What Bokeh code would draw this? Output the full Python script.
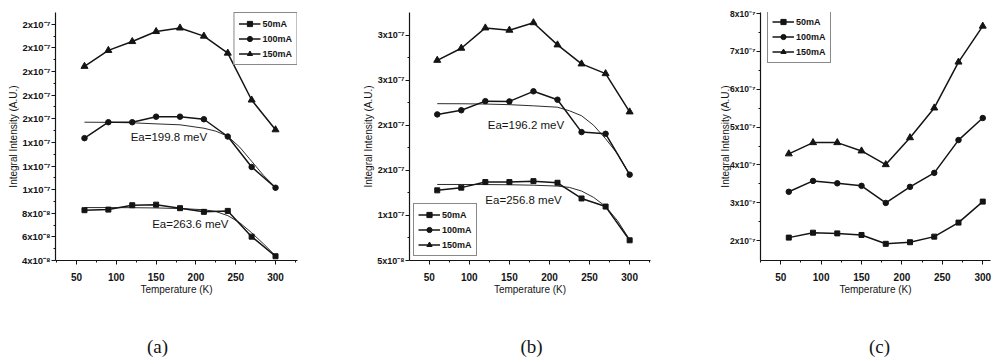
from bokeh.plotting import figure
from bokeh.layouts import row, column
from bokeh.models import (Range1d, FixedTicker, CustomJSTickFormatter, Label,
                          Legend, LegendItem)
from bokeh.embed import file_html
from bokeh.resources import INLINE
from bokeh.core.properties import value

# ---------------- data (intensities in units of 1e-7 A.U.) ----------------
temps = [60, 90, 120, 150, 180, 210, 240, 270, 300]
fit_temps = [60, 90, 120, 150, 180, 210, 225, 240, 255, 270, 285, 300]
series_names = ["50mA", "100mA", "150mA"]
markers = ["square", "circle", "triangle"]

# panel (a)
a_50 = [0.826, 0.831, 0.868, 0.873, 0.843, 0.812, 0.820, 0.602, 0.436]
a_100 = [1.436, 1.571, 1.571, 1.618, 1.618, 1.596, 1.450, 1.192, 1.016]
a_150 = [2.044, 2.179, 2.254, 2.339, 2.369, 2.300, 2.156, 1.759, 1.507]
a_fit_50 = [0.848, 0.848, 0.847, 0.845, 0.840, 0.830, 0.815, 0.780, 0.720, 0.635, 0.540, 0.440]
a_fit_100 = [1.571, 1.570, 1.566, 1.557, 1.549, 1.520, 1.495, 1.452, 1.360, 1.240, 1.120, 1.020]
a_ea = ["Ea=199.8 meV", "Ea=263.6 meV"]
a_ea_x = [118, 145]
a_ea_y = [1.442, 0.711]
a_yticks = [0.4, 0.6, 0.8, 1.0, 1.2, 1.4, 1.6, 1.8, 2.0, 2.2, 2.4]

# panel (b)
b_50 = [1.278, 1.308, 1.370, 1.370, 1.380, 1.362, 1.188, 1.098, 0.724]
b_100 = [2.120, 2.166, 2.267, 2.264, 2.376, 2.283, 1.924, 1.905, 1.452]
b_150 = [2.720, 2.854, 3.079, 3.054, 3.137, 2.891, 2.680, 2.572, 2.148]
b_fit_50 = [1.343, 1.343, 1.342, 1.340, 1.335, 1.325, 1.310, 1.270, 1.200, 1.100, 0.940, 0.730]
b_fit_100 = [2.239, 2.238, 2.235, 2.228, 2.215, 2.200, 2.160, 2.105, 2.000, 1.850, 1.680, 1.452]
b_ea = ["Ea=196.2 meV", "Ea=256.8 meV"]
b_ea_x = [123, 120]
b_ea_y = [2.003, 1.170]
b_yticks = [0.5, 1.0, 1.5, 2.0, 2.5, 3.0]

# panel (c)
c_50 = [2.078, 2.208, 2.190, 2.148, 1.914, 1.956, 2.104, 2.475, 3.030]
c_100 = [3.290, 3.577, 3.514, 3.447, 2.995, 3.420, 3.790, 4.657, 5.240]
c_150 = [4.293, 4.590, 4.590, 4.370, 4.008, 4.720, 5.506, 6.720, 7.670]
c_yticks = [2, 3, 4, 5, 6, 7, 8]

x_ticks = [50, 100, 150, 200, 250, 300]
x_minor = [25, 75, 125, 175, 225, 275, 325]
panel_labels = ["(a)", "(b)", "(c)"]
panel_label_x = [157, 531, 879]

FONT = "Liberation Sans"
INK = "#141414"

y_fmt = CustomJSTickFormatter(code="""
    const small = tick < 0.95;
    const m = small ? Math.round(tick * 10) : Math.round(tick + 1e-9);
    return m + "x10" + (small ? "\u207b\u2078" : "\u207b\u2077");
""")


def make_panel(width, borders, xr, yr, yticks, tick_font, series, fits, ea,
               legend_loc, ylab_standoff):
    left, right, top, bottom = borders
    p = figure(width=width, height=325, output_backend="svg", toolbar_location=None,
               x_range=Range1d(*xr), y_range=Range1d(*yr),
               min_border_left=left, min_border_right=right,
               min_border_top=top, min_border_bottom=bottom)
    p.outline_line_color = None
    p.grid.visible = False
    p.background_fill_color = "white"
    p.border_fill_color = "white"

    for ax in (p.xaxis[0], p.yaxis[0]):
        ax.axis_line_color = INK
        ax.axis_line_width = 1.2
        ax.major_tick_line_color = INK
        ax.minor_tick_line_color = INK
        ax.major_tick_out = 4
        ax.major_tick_in = 0
        ax.minor_tick_out = 2
        ax.minor_tick_in = 0
        ax.axis_label_text_font = FONT
        ax.axis_label_text_font_style = "normal"
        ax.axis_label_text_font_size = "10px"
        ax.axis_label_text_color = INK
        ax.major_label_text_font = FONT
        ax.major_label_text_font_style = "bold"
        ax.major_label_text_color = INK

    xa = p.xaxis[0]
    xa.ticker = FixedTicker(ticks=x_ticks, minor_ticks=x_minor)
    xa.axis_label = "Temperature (K)"
    xa.major_label_text_font_size = "10px"
    xa.major_label_standoff = 8
    xa.axis_label_standoff = 0

    ya = p.yaxis[0]
    ymin = [(yticks[i] + yticks[i + 1]) / 2 for i in range(len(yticks) - 1)]
    ya.ticker = FixedTicker(ticks=yticks, minor_ticks=ymin)
    ya.formatter = y_fmt
    ya.axis_label = "Integral Intensity (A.U.)"
    ya.major_label_text_font_size = tick_font
    ya.major_label_standoff = 1
    ya.axis_label_standoff = ylab_standoff

    for fy in fits:
        p.line(fit_temps, fy, line_color=INK, line_width=0.9)

    items = []
    sizes = {"square": 5, "circle": 5.5, "triangle": 7}
    for name, mk, ys in zip(series_names, markers, series):
        lr = p.line(temps, ys, line_color=INK, line_width=1.5)
        sr = p.scatter(temps, ys, marker=mk, size=sizes[mk], fill_color=INK,
                       line_color=INK)
        items.append(LegendItem(label=name, renderers=[lr, sr]))

    for txt, x, y in ea:
        p.add_layout(Label(x=x, y=y, text=txt, text_font=FONT, text_font_size="11.5px",
                           text_baseline="middle", text_color=INK))

    if isinstance(legend_loc, tuple) and isinstance(legend_loc[0], str):
        loc, margin = legend_loc
    else:
        loc, margin = legend_loc, 0
    leg = Legend(items=items, location=loc, margin=margin,
                 border_line_color=INK, border_line_width=1,
                 background_fill_color="white", background_fill_alpha=1,
                 label_text_font=FONT, label_text_font_size="9px",
                 label_text_font_style="bold", label_text_color=INK,
                 glyph_width=22, glyph_height=13, label_height=13,
                 spacing=2, padding=4, label_standoff=2)
    p.add_layout(leg)
    return p


pa = make_panel(330, (55, 33, 10, 65), (23.6, 327.6), (0.4, 2.5), a_yticks, "9.5px",
                [a_50, a_100, a_150], [a_fit_50, a_fit_100],
                list(zip(a_ea, a_ea_x, a_ea_y)),
                ("top_right", 0), 0)

pb = make_panel(330, (79, 10, 10, 62), (25.4, 326.0), (0.5, 3.25), b_yticks, "9px",
                [b_50, b_100, b_150], [b_fit_50, b_fit_100],
                list(zip(b_ea, b_ea_x, b_ea_y)),
                ("bottom_left", 4), 0)

pc = make_panel(332, (100, 2, 12, 61), (25.0, 309.6), (1.473, 8.03), c_yticks, "8.5px",
                [c_50, c_100, c_150], [],
                [],
                (7, 197), -4)

# strip below the panels holding the sub-figure tags
strip = figure(width=992, height=36, output_backend="svg", toolbar_location=None,
               x_range=Range1d(0, 992), y_range=Range1d(361, 325),
               min_border_left=0, min_border_right=0, min_border_top=0,
               min_border_bottom=0)
strip.axis.visible = False
strip.grid.visible = False
strip.outline_line_color = None
strip.text(x=panel_label_x, y=[346] * 3, text=panel_labels,
           text_font=value("Liberation Serif"), text_font_size="19px",
           text_align="center", text_baseline="middle", text_color=INK)

layout = column(row(pa, pb, pc), strip)
open("out.html", "w").write(file_html(layout, INLINE))
